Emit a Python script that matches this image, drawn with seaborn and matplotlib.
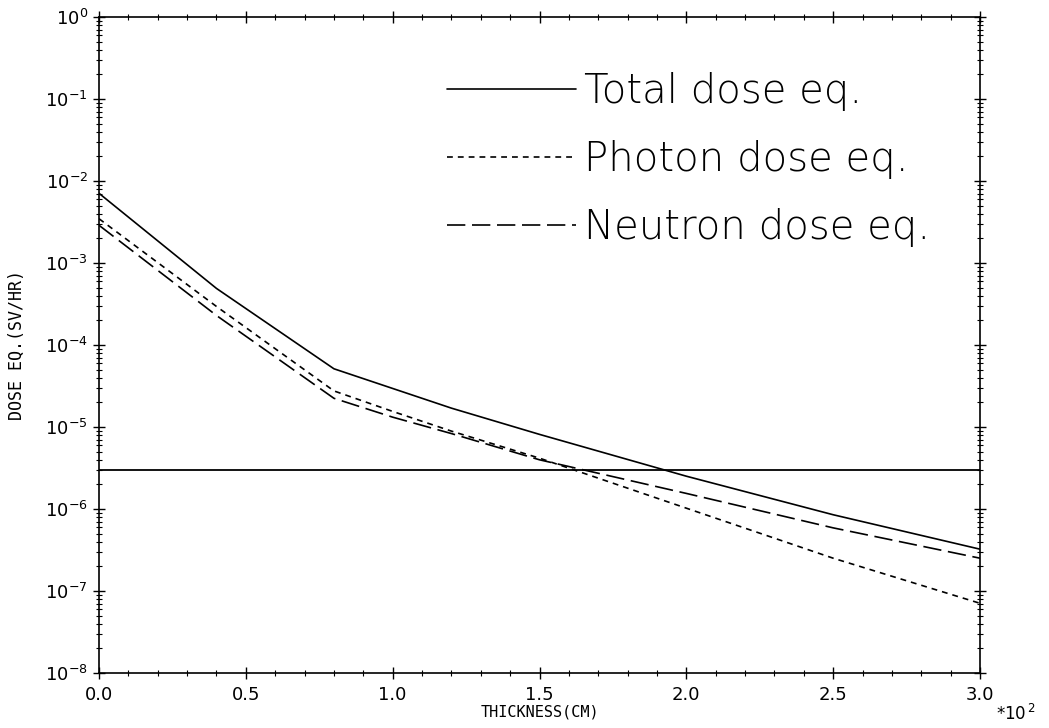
import numpy as np
import pandas as pd
import matplotlib
matplotlib.use("Agg")
import matplotlib.pyplot as plt
import seaborn as sns
from matplotlib.ticker import FixedLocator, MultipleLocator, LogFormatterSciNotation

# thickness in units of 10^2 cm
thickness = [0.0, 0.4, 0.8, 1.0, 1.2, 1.5, 2.0, 2.5, 3.0]
# dose equivalents (Sv/hr), read as log10 values
total_log = [-2.15, -3.31, -4.29, -4.53, -4.77, -5.09, -5.60, -6.07, -6.49]
photon_log = [-2.46, -3.53, -4.56, -4.81, -5.05, -5.38, -5.99, -6.60, -7.15]
neutron_log = [-2.54, -3.64, -4.65, -4.88, -5.08, -5.40, -5.81, -6.23, -6.60]
limit_value = 3.0e-6

series_names = ["Total dose eq.", "Photon dose eq.", "Neutron dose eq."]

df = pd.concat([
    pd.DataFrame({"x": thickness, "dose": 10 ** np.array(v), "series": n})
    for n, v in zip(series_names, [total_log, photon_log, neutron_log])
])

sns.set_style("ticks")
plt.rcParams["font.family"] = ["DejaVu Sans"]
plt.rcParams["text.color"] = "black"

fig = plt.figure(figsize=(10.49, 7.28), dpi=100)
ax = fig.add_axes([99 / 1049, 1 - 673 / 728, (980 - 99) / 1049, (673 - 17) / 728])

dashes = {"Total dose eq.": "", "Photon dose eq.": (3.5, 3), "Neutron dose eq.": (11, 4)}
sns.lineplot(data=df, x="x", y="dose", hue="series", style="series",
             palette={n: "black" for n in series_names}, dashes=dashes,
             linewidth=1.2, ax=ax, legend=True)

ax.axhline(limit_value, color="black", linewidth=1.3)

ax.set_yscale("log")
ax.set_ylim(1e-8, 1e0)
ax.set_xlim(0, 3.0)
ax.xaxis.set_major_locator(MultipleLocator(0.5))
ax.xaxis.set_minor_locator(MultipleLocator(0.1))
ax.xaxis.set_major_formatter(matplotlib.ticker.FormatStrFormatter("%.1f"))
decades = np.arange(-8, 1)
ax.yaxis.set_major_locator(FixedLocator(10.0 ** decades))
minor = [m * 10.0 ** d for d in decades[:-1] for m in range(2, 10)]
ax.yaxis.set_minor_locator(FixedLocator(minor))
ax.yaxis.set_major_formatter(LogFormatterSciNotation())
ax.yaxis.set_minor_formatter(matplotlib.ticker.NullFormatter())

for side in ["top", "right", "left", "bottom"]:
    ax.spines[side].set_visible(True)
    ax.spines[side].set_linewidth(1.2)
    ax.spines[side].set_color("black")
ax.tick_params(which="both", direction="inout", top=True, right=True, colors="black")
ax.tick_params(which="major", length=9, width=1.0, labelsize=13)
ax.tick_params(which="minor", length=5, width=0.8)
ax.tick_params(axis="x", pad=5)

ax.set_xlabel("THICKNESS(CM)", fontsize=11, labelpad=0, family="DejaVu Sans Mono", color="black")
ax.set_ylabel("DOSE EQ.(SV/HR)", fontsize=12, labelpad=14, family="DejaVu Sans Mono", color="black")
fig.text(996 / 1049, 1 - 714 / 728, r"$*10^{\,2}$", fontsize=12, ha="left", va="center")

handles, labels = ax.get_legend_handles_labels()
leg = ax.legend(handles, labels, loc="upper left", bbox_to_anchor=((447 - 99) / 881, (673 - 72) / 656),
                frameon=False, fontsize=29, handlelength=3.2, handletextpad=0.2,
                labelspacing=0.72, borderpad=0, borderaxespad=0)
for t in leg.get_texts():
    t.set_fontweight("light")
    t.set_color("black")

fig.savefig("out.png", dpi=100, facecolor="white")
